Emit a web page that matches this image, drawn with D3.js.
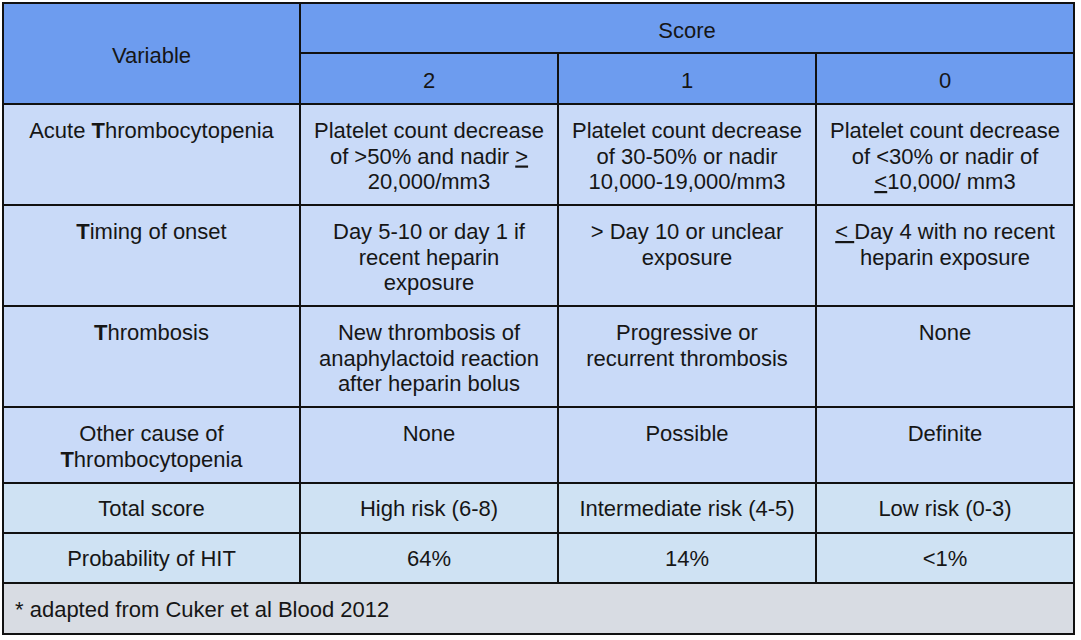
<!DOCTYPE html>
<html>
<head>
<meta charset="utf-8">
<script src="https://cdn.jsdelivr.net/npm/d3@7"></script>
<style>
  body { margin: 0; background: #fff; }
  svg text { font-family: "Liberation Sans", Arial, sans-serif; font-size: 22px; fill: #161616; }
</style>
</head>
<body>
<svg id="chart" width="1081" height="640"></svg>
<script>
// table content. *X* = bold, _X_ = underline
let headerTitle = "Variable";
let scoreTitle = "Score";
let scores = ["2", "1", "0"];

let variables = [
  ["Acute *T*hrombocytopenia"],
  ["*T*iming of onset"],
  ["*T*hrombosis"],
  ["Other cause of", "*T*hrombocytopenia"],
  ["Total score"],
  ["Probability of HIT"]
];

let score2 = [
  ["Platelet count decrease", "of >50% and nadir _>_", "20,000/mm3"],
  ["Day 5-10 or day 1 if", "recent heparin", "exposure"],
  ["New thrombosis of", "anaphylactoid reaction", "after heparin bolus"],
  ["None"],
  ["High risk (6-8)"],
  ["64%"]
];

let score1 = [
  ["Platelet count decrease", "of 30-50% or nadir", "10,000-19,000/mm3"],
  ["> Day 10 or unclear", "exposure"],
  ["Progressive or", "recurrent thrombosis"],
  ["Possible"],
  ["Intermediate risk (4-5)"],
  ["14%"]
];

let score0 = [
  ["Platelet count decrease", "of <30% or nadir of", "_<_10,000/ mm3"],
  ["_< _Day 4 with no recent", "heparin exposure"],
  ["None"],
  ["Definite"],
  ["Low risk (0-3)"],
  ["<1%"]
];

let rowKinds = ["item", "item", "item", "item", "summary", "summary"];
let footnote = "* adapted from Cuker et al Blood 2012";

// layout
const colEdges = [3, 300, 558, 816, 1074];
const rowEdges = [104, 205, 306, 407, 483, 533, 583];
const tableTop = 3, subTop = 53, headBottom = 104, footBottom = 634;
const lineH = 25.5;
const mid = 8; // baseline shift for vertically centred text

const colors = {
  header: "#6d9cef",
  item: "#c9daf8",
  summary: "#cfe2f3",
  foot: "#d8dce3"
};

const svg = d3.select("#chart");

let columns = [variables, score2, score1, score0];

// split a line into styled pieces
function pieces(str) {
  let out = [];
  let re = /(\*[^*]+\*|_[^_]+_)/g;
  let last = 0, m;
  while ((m = re.exec(str)) !== null) {
    if (m.index > last) out.push({t: str.slice(last, m.index)});
    let tok = m[0];
    if (tok[0] === "*") out.push({t: tok.slice(1, -1), bold: true});
    else out.push({t: tok.slice(1, -1), under: true});
    last = m.index + tok.length;
  }
  if (last < str.length) out.push({t: str.slice(last)});
  return out;
}

function addText(g, lines, x, y) {
  let t = g.append("text")
    .attr("text-anchor", "middle");
  lines.forEach((line, i) => {
    let tl = t.append("tspan").attr("x", x).attr("y", y + i * lineH);
    pieces(line).forEach(p => {
      tl.append("tspan")
        .style("font-weight", p.bold ? "bold" : null)
        .style("text-decoration", p.under ? "underline" : null)
        .style("white-space", "pre")
        .text(p.t);
    });
  });
  return t;
}

// backgrounds
svg.append("rect")
  .attr("x", colEdges[0]).attr("y", tableTop)
  .attr("width", colEdges[4] - colEdges[0]).attr("height", headBottom - tableTop)
  .attr("fill", colors.header);

let cells = [];
rowKinds.forEach((kind, r) => {
  columns.forEach((col, c) => {
    cells.push({r: r, c: c, kind: kind, lines: col[r]});
  });
});

svg.selectAll("rect.cell")
  .data(cells)
  .join("rect")
    .attr("class", "cell")
    .attr("x", d => colEdges[d.c])
    .attr("y", d => rowEdges[d.r])
    .attr("width", d => colEdges[d.c + 1] - colEdges[d.c])
    .attr("height", d => rowEdges[d.r + 1] - rowEdges[d.r])
    .attr("fill", d => colors[d.kind]);

svg.append("rect")
  .attr("x", colEdges[0]).attr("y", rowEdges[6])
  .attr("width", colEdges[4] - colEdges[0]).attr("height", footBottom - rowEdges[6])
  .attr("fill", colors.foot);

// grid lines
let grid = svg.append("g").attr("stroke", "#111").attr("stroke-width", 2);
rowEdges.forEach(y => {
  grid.append("line").attr("x1", colEdges[0]).attr("x2", colEdges[4]).attr("y1", y).attr("y2", y);
});
grid.append("line").attr("x1", colEdges[1]).attr("x2", colEdges[4]).attr("y1", subTop).attr("y2", subTop);
// verticals: inner score columns start below the "Score" header
grid.append("line").attr("x1", colEdges[1]).attr("x2", colEdges[1]).attr("y1", tableTop).attr("y2", rowEdges[6]);
colEdges.slice(2, 4).forEach(x => {
  grid.append("line").attr("x1", x).attr("x2", x).attr("y1", subTop).attr("y2", rowEdges[6]);
});
// outer border
grid.append("rect")
  .attr("x", colEdges[0]).attr("y", tableTop)
  .attr("width", colEdges[4] - colEdges[0]).attr("height", footBottom - tableTop)
  .attr("fill", "none");

// header text
let head = svg.append("g");
addText(head, [headerTitle], (colEdges[0] + colEdges[1]) / 2, (tableTop + headBottom) / 2 + mid + 1);
addText(head, [scoreTitle], (colEdges[1] + colEdges[4]) / 2, (tableTop + subTop) / 2 + mid + 2);
scores.forEach((s, i) => {
  addText(head, [s], (colEdges[i + 1] + colEdges[i + 2]) / 2, (subTop + headBottom) / 2 + mid + 1);
});

// body text
let body = svg.append("g");
cells.forEach(d => {
  let x = (colEdges[d.c] + colEdges[d.c + 1]) / 2;
  let y;
  if (d.kind === "summary") y = (rowEdges[d.r] + rowEdges[d.r + 1]) / 2 + mid;
  else y = rowEdges[d.r] + 34;
  addText(body, d.lines, x, y);
});

// footnote
svg.append("text")
  .attr("x", colEdges[0] + 12)
  .attr("y", (rowEdges[6] + footBottom) / 2 + mid)
  .text(footnote);
</script>
</body>
</html>
